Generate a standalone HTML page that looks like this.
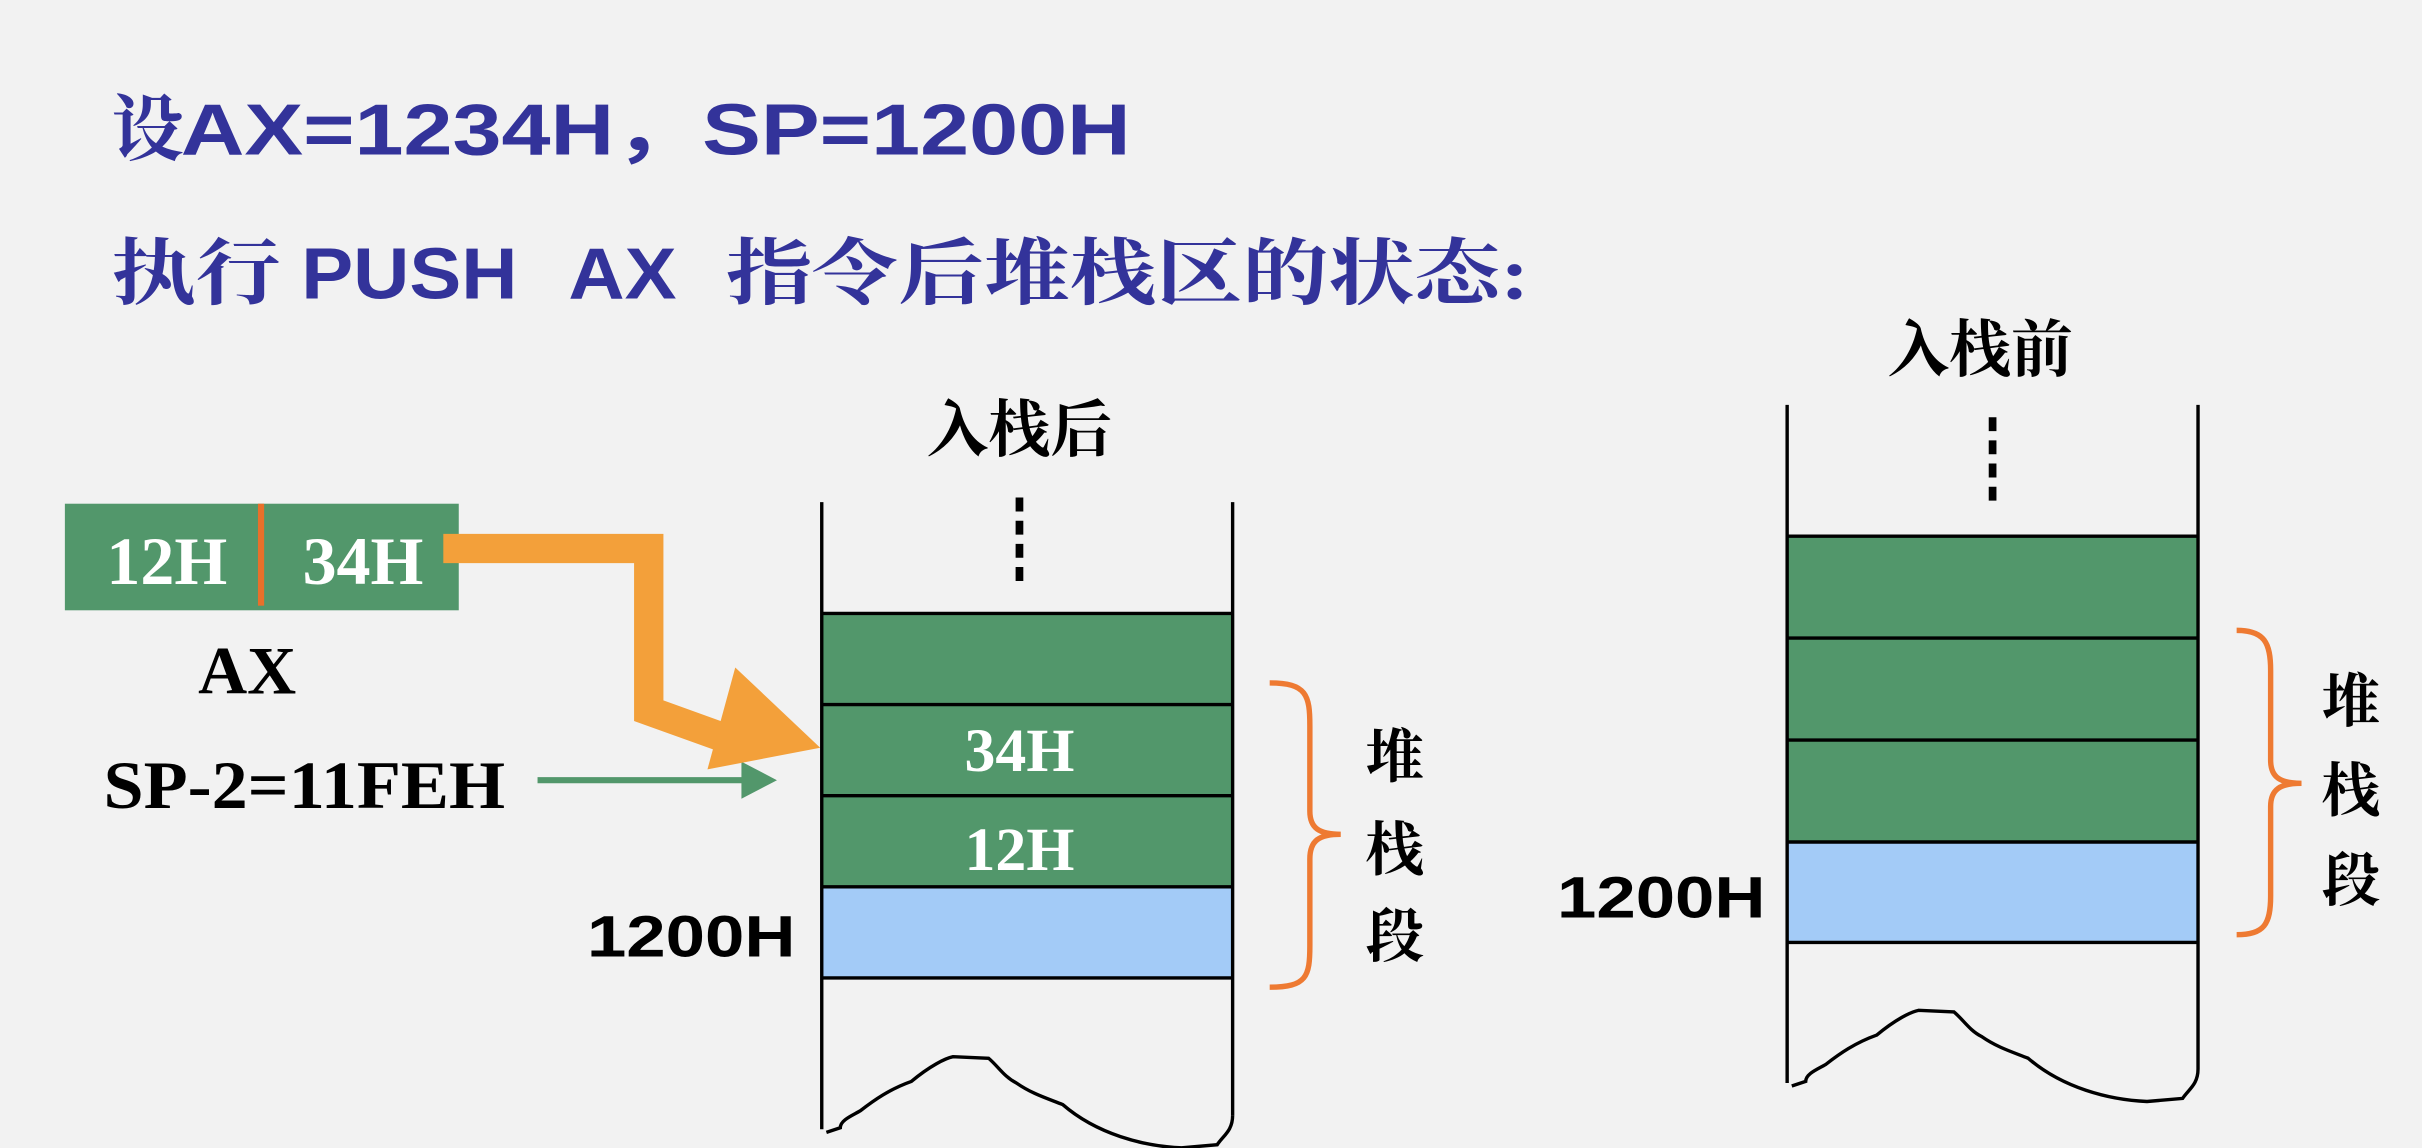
<!DOCTYPE html>
<html><head><meta charset="utf-8"><style>
html,body{margin:0;padding:0;background:#f2f2f2;}
svg{display:block}
.t{font-family:"Liberation Sans","Noto Sans CJK SC",sans-serif;font-weight:bold;fill:#33339a;font-size:47px}
.cj{font-family:"Liberation Serif","Noto Serif CJK SC",serif;font-weight:bold}
.s{font-family:"Liberation Serif",serif;font-weight:bold}
.b{font-family:"Liberation Sans",sans-serif;font-weight:bold}
</style></head><body>
<svg width="2422" height="1148" viewBox="0 0 1568 743" xmlns="http://www.w3.org/2000/svg">
<rect width="1568" height="743" fill="#f2f2f2"/>
<text x="72" y="100" class="t cj" fill="#33339a" font-size="44">设</text>
<text x="117" y="100" class="t" textLength="615" lengthAdjust="spacingAndGlyphs">AX=1234H，SP=1200H</text>
<text x="72" y="193" class="t cj" fill="#33339a" font-size="44" textLength="110" lengthAdjust="spacingAndGlyphs">执行</text>
<text x="195" y="193" class="t" textLength="140" lengthAdjust="spacingAndGlyphs">PUSH</text>
<text x="368" y="193" class="t" textLength="70" lengthAdjust="spacingAndGlyphs">AX</text>
<text x="470" y="193" class="t cj" fill="#33339a" font-size="44" textLength="520" lengthAdjust="spacingAndGlyphs">指令后堆栈区的状态:</text>

<!-- AX register -->
<rect x="42" y="326" width="255" height="69" fill="#52976b"/>
<rect x="167" y="326" width="4" height="66" fill="#e8702a"/>
<text x="108" y="378" class="s" font-size="44" fill="#fff" text-anchor="middle">12H</text>
<text x="235" y="378" class="s" font-size="44" fill="#fff" text-anchor="middle">34H</text>
<text x="160" y="449" class="s" font-size="44" text-anchor="middle">AX</text>
<text x="67" y="523" class="s" font-size="44" textLength="260" lengthAdjust="spacingAndGlyphs">SP-2=11FEH</text>
<!-- green arrow -->
<line x1="348" y1="505" x2="485" y2="505" stroke="#52976b" stroke-width="4"/>
<polygon points="480,493 503,505 480,517" fill="#52976b"/>
<!-- orange arrow -->
<polyline points="287,355 420,355 420,460 470,478" fill="none" stroke="#f3a03a" stroke-width="19"/>
<polygon points="476,432 531,484 458,498" fill="#f3a03a"/>

<!-- left stack -->
<text x="660" y="292" class="cj" font-size="40" text-anchor="middle">入栈后</text>
<line x1="660" y1="322" x2="660" y2="376" stroke="#000" stroke-width="5" stroke-dasharray="9,6"/>
<rect x="532" y="397" width="266" height="177" fill="#52976b"/>
<rect x="532" y="574" width="266" height="59" fill="#a3cbf7"/>
<g stroke="#000" stroke-width="2.2">
<line x1="532" y1="325" x2="532" y2="731"/><line x1="798" y1="325" x2="798" y2="722"/>
<line x1="532" y1="397" x2="798" y2="397"/><line x1="532" y1="456" x2="798" y2="456"/>
<line x1="532" y1="515" x2="798" y2="515"/><line x1="532" y1="574" x2="798" y2="574"/>
<line x1="532" y1="633" x2="798" y2="633"/>
</g>
<path d="M535,733 L544,730 C544,725 552,722 557,719 C566,712 576,705 590,700 C602,690 612,685 617,684 L640,685 C646,690 650,697 658,701 C668,708 678,711 688,715 C710,734 740,742 765,743 L788,741 C792,735 798,732 798,722" fill="none" stroke="#000" stroke-width="2.2"/>
<text x="660" y="499" class="s" font-size="40" fill="#fff" text-anchor="middle">34H</text>
<text x="660" y="563" class="s" font-size="40" fill="#fff" text-anchor="middle">12H</text>
<text x="380" y="619" class="b" font-size="38" textLength="135" lengthAdjust="spacingAndGlyphs">1200H</text>
<path d="M822,442 C846,442 848,450 848,470 L848,525 C848,536 854,540 868,540 C854,540 848,544 848,556 L848,612 C848,632 846,639 822,639" fill="none" stroke="#ee7a32" stroke-width="3.5"/>
<text x="903" y="503" class="cj" font-size="38" text-anchor="middle">堆</text>
<text x="903" y="563" class="cj" font-size="38" text-anchor="middle">栈</text>
<text x="903" y="619" class="cj" font-size="38" text-anchor="middle">段</text>

<!-- right stack -->
<text x="1282" y="240" class="cj" font-size="40" text-anchor="middle">入栈前</text>
<line x1="1290" y1="270" x2="1290" y2="326" stroke="#000" stroke-width="5" stroke-dasharray="9,6"/>
<rect x="1157" y="347" width="266" height="198" fill="#52976b"/>
<rect x="1157" y="545" width="266" height="65" fill="#a3cbf7"/>
<g stroke="#000" stroke-width="2.2">
<line x1="1157" y1="262" x2="1157" y2="701"/><line x1="1423" y1="262" x2="1423" y2="692"/>
<line x1="1157" y1="347" x2="1423" y2="347"/><line x1="1157" y1="413" x2="1423" y2="413"/>
<line x1="1157" y1="479" x2="1423" y2="479"/><line x1="1157" y1="545" x2="1423" y2="545"/>
<line x1="1157" y1="610" x2="1423" y2="610"/>
</g>
<path d="M1160,703 L1169,700 C1169,695 1177,692 1182,689 C1191,682 1201,675 1215,670 C1227,660 1237,655 1242,654 L1265,655 C1271,660 1275,667 1283,671 C1293,678 1303,681 1313,685 C1335,704 1365,712 1390,713 L1413,711 C1417,705 1423,702 1423,692" fill="none" stroke="#000" stroke-width="2.2"/>
<text x="1008" y="594" class="b" font-size="38" textLength="135" lengthAdjust="spacingAndGlyphs">1200H</text>
<path d="M1448,408 C1466,408 1470,416 1470,434 L1470,492 C1470,503 1476,507 1490,507 C1476,507 1470,511 1470,522 L1470,580 C1470,598 1466,605 1448,605" fill="none" stroke="#ee7a32" stroke-width="3.5"/>
<text x="1522" y="467" class="cj" font-size="38" text-anchor="middle">堆</text>
<text x="1522" y="525" class="cj" font-size="38" text-anchor="middle">栈</text>
<text x="1522" y="583" class="cj" font-size="38" text-anchor="middle">段</text>
</svg>
</body></html>
